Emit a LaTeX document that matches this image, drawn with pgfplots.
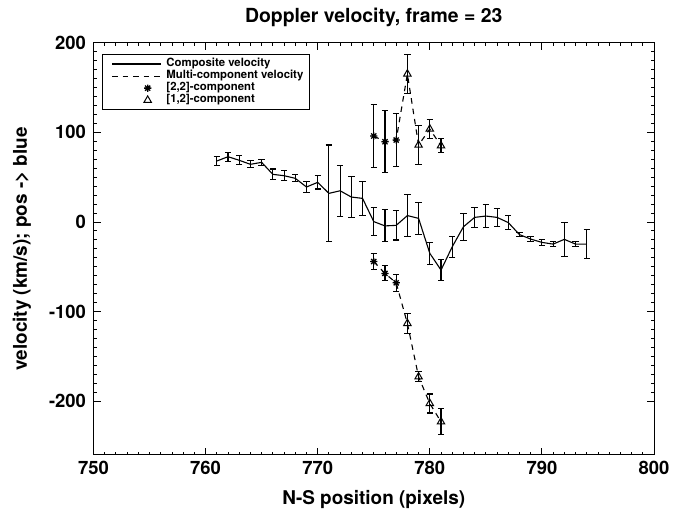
\documentclass[border=0pt]{standalone}
\usepackage{fontspec}
\setmainfont{TeX Gyre Heros}
\usepackage{pgfplots}
\pgfplotsset{compat=1.18}
\usepackage{pgfplotstable}

\pgfdeclareplotmark{idlast}{%
  \pgfpathmoveto{\pgfqpoint{-\pgfplotmarksize}{0pt}}%
  \pgfpathlineto{\pgfqpoint{\pgfplotmarksize}{0pt}}%
  \pgfpathmoveto{\pgfqpoint{0pt}{-\pgfplotmarksize}}%
  \pgfpathlineto{\pgfqpoint{0pt}{\pgfplotmarksize}}%
  \pgfpathmoveto{\pgfqpoint{-.7071\pgfplotmarksize}{-.7071\pgfplotmarksize}}%
  \pgfpathlineto{\pgfqpoint{.7071\pgfplotmarksize}{.7071\pgfplotmarksize}}%
  \pgfpathmoveto{\pgfqpoint{-.7071\pgfplotmarksize}{.7071\pgfplotmarksize}}%
  \pgfpathlineto{\pgfqpoint{.7071\pgfplotmarksize}{-.7071\pgfplotmarksize}}%
  \pgfusepathqstroke}

\pgfplotsset{
  mylinelegend/.style={legend image code/.code={\path[draw=none] (0bp,0bp) -- (58bp,0bp); \draw[##1] (4.5bp,0bp) -- (53.5bp,0bp);}},
  mymarklegend/.style={legend image code/.code={\path[draw=none] (0bp,0bp) -- (58bp,0bp); \draw[##1] plot coordinates {(40bp,0bp)};}},
  myerr/.style={error bars/.cd, y dir=both, y explicit,
    error bar style={line width=1.1bp, black},
    error mark options={rotate=90, mark size=3.2bp, line width=1.1bp, black}},
}

\pgfplotstableread{
x y e
761 68.0 4.6
762 72.8 5
763 68.8 5
764 64.3 4
765 66.5 3.5
766 53.1 6
767 51.6 5.5
768 48.7 4
769 39.0 6
770 44.2 7.4
771 31.9 54
772 34.8 28.6
773 27.8 22.9
774 26.3 18.6
775 0.4 16
776 -4.4 17.9
777 -3.8 16.3
778 7.1 23.4
779 4.0 18
780 -35.0 12.1
781 -53.7 11.7
782 -27.7 11.9
783 -5.4 14.8
784 5.1 10.8
785 6.6 13
786 5.1 9.9
787 -0.7 7.8
788 -14.1 2.5
789 -19.1 2.5
790 -22.8 3
791 -24.7 3
792 -19.4 19
793 -24.7 3
794 -24.7 16
}\compositetab

\pgfplotstableread{
x y e
775 95.9 35.3
776 89.5 34.8
777 91.4 29.4
778 165.1 21.6
779 85.8 21.4
780 103.7 10.5
781 85.0 8
}\uppertab

\pgfplotstableread{
x y e
775 -44.2 9.3
776 -57.4 8.4
777 -67.9 9.3
778 -113.2 11.2
779 -172.8 5.6
780 -202.5 10.6
781 -223.0 14.5
}\lowertab

\pgfplotstableread{
x y e
775 95.9 35.3
776 89.5 34.8
777 91.4 29.4
775 -44.2 9.3
776 -57.4 8.4
777 -67.9 9.3
}\asttab

\pgfplotstableread{
x y e
778 165.1 21.6
779 85.8 21.4
780 103.7 10.5
781 85.0 8
778 -113.2 11.2
779 -172.8 5.6
780 -202.5 10.6
781 -223.0 14.5
}\tritab

\begin{document}
\begin{tikzpicture}
\path[use as bounding box] (0,0) rectangle (687bp,514bp);
\begin{axis}[
  at={(93.5bp,59bp)}, anchor=south west,
  scale only axis, width=560.5bp, height=412.3bp,
  xmin=750, xmax=800, ymin=-260, ymax=200,
  axis line style={black, line width=1bp},
  xtick={750,760,770,780,790,800},
  xticklabels={750,760,770,780,790,800},
  ytick={-200,-100,0,100,200},
  yticklabels={-200,-100,0,100,200},
  minor x tick num=9, minor y tick num=9,
  xtick pos=both, ytick pos=both,
  tick align=inside,
  major tick length=7.3bp, minor tick length=3.5bp,
  every tick/.style={black, line width=0.9bp},
  ticklabel style={font=\fontsize{18.5}{19}\selectfont\bfseries},
  xticklabel style={yshift=-2.5bp},
  yticklabel style={xshift=-4bp},
  title={Doppler velocity, frame = 23},
  title style={at={(axis description cs:0.5,1.035)}, anchor=base, font=\fontsize{19.5}{20}\selectfont\bfseries},
  xlabel={N-S position (pixels)},
  xlabel style={at={(axis description cs:0.5,-0.119)}, anchor=base, font=\fontsize{19}{20}\selectfont\bfseries},
  ylabel={velocity (km/s); pos -> blue},
  ylabel style={at={(axis description cs:-0.1276,0.5)}, anchor=center, font=\fontsize{19}{20}\selectfont\bfseries},
  legend style={at={(axis description cs:0.0146,0.9726)}, anchor=north west,
    draw=black, line width=1bp, fill=white,
    font=\fontsize{11.4}{12}\selectfont\bfseries,
    inner xsep=5.5bp, inner ysep=3.5bp, row sep=0pt,
    nodes={inner sep=0.8bp, text height=0.78em, text depth=0.27em},
    /tikz/every even column/.append style={column sep=3.5bp}},
  legend cell align=left,
]
\addlegendimage{black, line width=1.1bp, mylinelegend}
\addlegendentry{Composite velocity}
\addlegendimage{black, line width=1.1bp, dash pattern=on 5.5bp off 5bp, mylinelegend}
\addlegendentry{Multi-component velocity}
\addlegendimage{black, only marks, mark=idlast, mark size=3.6bp, line width=1.3bp, mymarklegend}
\addlegendentry{[2,2]-component}
\addlegendimage{black, only marks, mark=triangle, mark size=4.3bp, line width=1bp, mymarklegend}
\addlegendentry{[1,2]-component}

\addplot[black, line width=1.1bp, forget plot, myerr]
  table[x=x, y=y, y error=e] {\compositetab};

\addplot[black, line width=1.1bp, dash pattern=on 5.5bp off 5bp, forget plot] table[x=x, y=y] {\uppertab};
\addplot[black, line width=1.1bp, dash pattern=on 5.5bp off 5bp, forget plot] table[x=x, y=y] {\lowertab};

\addplot[black, only marks, mark=idlast, mark size=3.6bp, line width=1.3bp, forget plot, myerr]
  table[x=x, y=y, y error=e] {\asttab};

\addplot[black, only marks, mark=triangle, mark size=4.3bp, line width=1bp, forget plot, myerr]
  table[x=x, y=y, y error=e] {\tritab};
\end{axis}
\end{tikzpicture}
\end{document}
